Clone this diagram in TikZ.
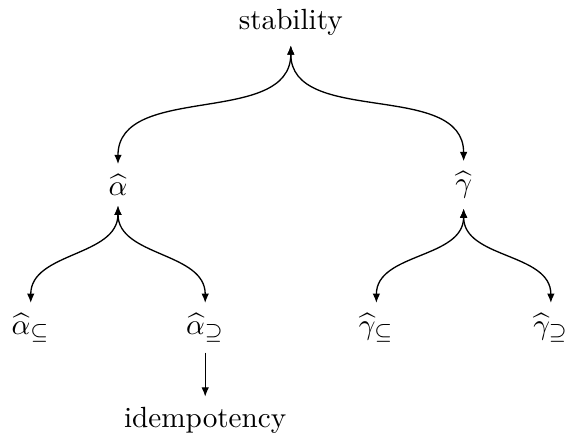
\documentclass[tikz,border=0pt]{standalone}
\usepackage{tikz}
\usetikzlibrary{positioning,arrows.meta}
\tikzset{
  prop/.style={inner sep=3.3pt},
  ar/.style={-{Latex[length=3.2pt,width=2.6pt]}, line width=0.45pt},
  arr/.style={{Latex[length=3.2pt,width=2.6pt]}-{Latex[length=3.2pt,width=2.6pt]}, line width=0.45pt},
}

\begin{document}
\begin{tikzpicture}[on grid, node distance=1.96cm and 2.08cm]
  \useasboundingbox (-3.50,0.265) rectangle (3.30,-5.01);
  \node[prop] (stab) at (0,0) {stability};
  \node[prop, below left=of stab] (ah) {$\widehat{\alpha}$};
  \node[prop, below right=of stab] (gh) {$\widehat{\gamma}$};
  \node[prop, below left=1.72cm and 1.05cm of ah] (ahsub) {$\widehat{\alpha}_{\subseteq}$};
  \node[prop, below right=1.72cm and 1.05cm of ah] (ahsup) {$\widehat{\alpha}_{\supseteq}$};
  \node[prop, below left=1.72cm and 1.05cm of gh] (ghsub) {$\widehat{\gamma}_{\subseteq}$};
  \node[prop, below right=1.72cm and 1.05cm of gh] (ghsup) {$\widehat{\gamma}_{\supseteq}$};
  \node[prop, below=1.11cm of ahsup] (idem) {idempotency};

  \draw[arr] (stab) to[out=-90,in=90] (ah);
  \draw[arr] (stab) to[out=-90,in=90] (gh);
  \draw[arr] (ah) to[out=-90,in=90] (ahsub);
  \draw[arr] (ah) to[out=-90,in=90] (ahsup);
  \draw[arr] (gh) to[out=-90,in=90] (ghsub);
  \draw[arr] (gh) to[out=-90,in=90] (ghsup);
  \draw[ar] (ahsup) -- (idem);
\end{tikzpicture}
\end{document}
